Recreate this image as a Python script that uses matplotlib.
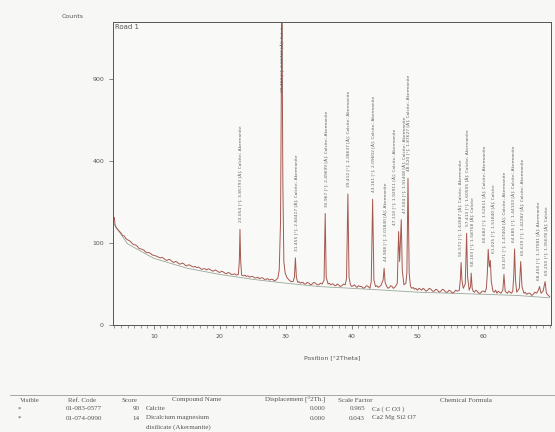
import numpy as np
import matplotlib
matplotlib.use('Agg')
import matplotlib.pyplot as plt

two_theta = [4.0, 4.1, 4.3, 4.6, 5.0, 5.25, 5.5, 5.75, 6.0, 6.25, 6.5, 6.75, 7.0, 7.25, 7.5, 7.75,
             8.0, 8.25, 8.5, 8.75, 9.0, 9.25, 9.5, 9.75, 10.0, 10.25, 10.5, 10.75,
             11.0, 11.25, 11.5, 11.75, 12.0, 12.25, 12.5, 12.75, 13.0, 13.25, 13.5, 13.75,
             14.0, 14.25, 14.5, 14.75, 15.0, 15.25, 15.5, 15.75, 16.0, 16.25, 16.5, 16.75,
             17.0, 17.25, 17.5, 17.75, 18.0, 18.25, 18.5, 18.75, 19.0, 19.25, 19.5, 19.75,
             20.0, 20.25, 20.5, 20.75, 21.0, 21.25, 21.5, 21.75, 22.0, 22.25, 22.5,
             22.8, 22.95, 23.05, 23.15, 23.3,
             23.6, 23.8, 24.0, 24.25, 24.5, 24.75, 25.0, 25.25, 25.5, 25.75, 26.0, 26.25, 26.5,
             26.75, 27.0, 27.25, 27.5, 27.75, 28.0, 28.25, 28.5, 28.8, 29.0, 29.2,
             29.4, 29.55, 29.7, 29.9, 30.2, 30.5, 30.8, 31.1, 31.3, 31.45, 31.6, 31.8, 32.0, 32.2,
             32.4, 32.6, 32.8, 33.0, 33.25, 33.5, 33.75, 34.0, 34.25, 34.5, 34.75, 35.0, 35.25,
             35.5, 35.8, 35.97, 36.12, 36.4, 36.6, 36.8, 37.0, 37.2, 37.4, 37.6, 37.8, 38.0,
             38.25, 38.5, 38.75, 39.0, 39.2, 39.41, 39.58, 39.8, 40.0, 40.2, 40.4, 40.6, 40.8,
             41.0, 41.25, 41.5, 41.75, 42.0, 42.25, 42.5, 42.75, 42.95,
             43.16, 43.35, 43.6, 43.8, 44.0, 44.2, 44.4, 44.75, 44.9, 45.05, 45.3, 45.5, 45.7,
             45.9, 46.1, 46.3, 46.5, 46.7, 46.9,
             47.1, 47.25, 47.5, 47.65, 47.9, 48.2, 48.35, 48.52, 48.7, 48.9, 49.1, 49.3, 49.5,
             49.7, 49.95, 50.2, 50.4, 50.6, 50.8, 51.0, 51.25, 51.5, 51.75, 52.0, 52.25, 52.5,
             52.75, 53.0, 53.25, 53.5, 53.75, 54.0, 54.25, 54.5, 54.75, 55.0, 55.25, 55.5, 55.75,
             56.0, 56.3, 56.45,
             56.57, 56.7, 56.9, 57.2, 57.41, 57.55, 57.8, 58.0, 58.1, 58.25, 58.4, 58.6, 58.8,
             59.0, 59.25, 59.5, 59.75, 60.0, 60.2, 60.4, 60.55, 60.68, 60.85, 61.0, 61.15, 61.4,
             61.6, 61.8, 62.0, 62.2, 62.4, 62.6, 62.9, 63.07,
             63.25, 63.4, 63.6, 63.8, 64.0, 64.2, 64.4, 64.55, 64.68, 64.82, 65.0, 65.2, 65.4,
             65.61, 65.8, 66.1, 66.3, 66.5, 66.75, 67.0, 67.25, 67.5, 67.75, 68.0, 68.3, 68.45,
             68.7, 69.0, 69.3, 69.5, 69.8, 70.0]
counts = [172, 150, 140, 134, 126, 119, 118, 111, 108, 106, 103, 98, 96, 95, 92, 87,
          86, 85, 83, 79, 78, 78, 76, 73, 72, 71, 70, 68,
          67, 68, 66, 63, 62, 64, 63, 60, 58, 60, 59, 56,
          55, 57, 56, 53, 52, 54, 53, 51, 50, 51, 49, 50,
          48, 46, 47, 47, 45, 47, 46, 44, 43, 45, 44, 42,
          41, 43, 42, 40, 39, 41, 40, 38, 38, 39, 37,
          38, 60, 136, 62, 37,
          36, 37, 35, 36, 34, 35, 35, 33, 33, 34, 32, 33, 33,
          31, 31, 32, 30, 31, 31, 29, 30, 33, 45, 160,
          1600, 300, 60, 40, 33, 30, 28, 28, 34, 67, 34, 27, 28, 26,
          27, 27, 25, 25, 27, 26, 24, 25, 27, 26, 24, 24, 26,
          25, 30, 185, 34, 25, 26, 24, 25, 25, 23, 23, 25, 24,
          22, 23, 25, 24, 32, 255, 34, 24, 22, 23, 24, 22, 21,
          23, 22, 22, 20, 21, 23, 22, 20, 28,
          235, 30, 22, 23, 21, 22, 23, 30, 48, 27, 22, 20, 21,
          23, 22, 20, 21, 23, 26,
          130, 60, 165, 45, 24, 26, 40, 320, 40, 22, 20, 21, 19,
          20, 18, 20, 19, 18, 20, 19, 17, 18, 20, 19, 17, 17,
          19, 18, 16, 17, 19, 18, 16, 16, 18, 17, 15, 16, 18,
          17, 18, 30,
          58, 30, 20, 25, 125, 35, 18, 22, 40, 20, 17, 16, 18,
          17, 15, 15, 17, 17, 16, 20, 40, 85, 50, 62, 28, 17,
          16, 18, 15, 17, 16, 15, 18, 38,
          17, 16, 15, 17, 16, 15, 17, 35, 86, 30, 16, 18, 20,
          60, 22, 15, 16, 14, 15, 15, 13, 14, 16, 15, 18, 22,
          15, 17, 28, 15, 13, 12]

# Linha de fundo (background)
bg_theta = [4.0, 6.0, 10.0, 15.0, 20.0, 25.0, 30.0, 35.0, 40.0, 45.0, 50.0, 55.0, 60.0, 65.0, 70.0]
bg_counts = [150, 98, 66, 48, 38, 31, 26, 22, 20, 18, 16, 15, 14, 13, 11]

# Picos identificados
peak_pos = [23.05, 29.40, 31.45, 35.97, 39.41, 43.16, 44.9, 47.11, 47.50, 48.52,
            56.57, 57.41, 58.10, 60.68, 61.0, 63.07, 64.68, 65.61, 68.45, 69.3]
peak_top = [136, 1600, 67, 185, 255, 235, 48, 130, 165, 320,
            58, 125, 40, 85, 62, 38, 86, 60, 22, 28]
peak_label = [
    '23.054 [°]; 3.85793 [Å]; Calcite; Akermanite',
    '29.404 [°]; 3.03760 [Å]; Calcite',
    '31.455 [°]; 2.84417 [Å]; Calcite; Akermanite',
    '35.967 [°]; 2.49699 [Å]; Calcite; Akermanite',
    '39.412 [°]; 2.28637 [Å]; Calcite; Akermanite',
    '43.161 [°]; 2.09602 [Å]; Calcite; Akermanite',
    '44.908 [°]; 2.01840 [Å]; Akermanite',
    '47.110 [°]; 1.92911 [Å]; Calcite; Akermanite',
    '47.504 [°]; 1.91408 [Å]; Calcite; Akermanite',
    '48.520 [°]; 1.87627 [Å]; Calcite; Akermanite',
    '56.571 [°]; 1.62687 [Å]; Calcite; Akermanite',
    '57.413 [°]; 1.60505 [Å]; Calcite; Akermanite',
    '58.103 [°]; 1.58758 [Å]; Calcite',
    '60.682 [°]; 1.52611 [Å]; Calcite; Akermanite',
    '61.025 [°]; 1.51840 [Å]; Calcite',
    '63.071 [°]; 1.47404 [Å]; Calcite; Akermanite',
    '64.685 [°]; 1.44103 [Å]; Calcite; Akermanite',
    '65.619 [°]; 1.42282 [Å]; Calcite; Akermanite',
    '68.450 [°]; 1.37081 [Å]; Akermanite',
    '69.250 [°]; 1.35678 [Å]; Calcite',
]
# pequenos deslocamentos horizontais (pt) para picos muito próximos
label_dx = [1.2, 0, 1.2, 1.2, 1.2, 1.2, 1.2, -2.6, 3.2, 1.2,
            0, 1.2, 1.5, -2.4, 3.2, 1.2, 0, 1.5, 0, 1.5]

y_ticks = [0, 100, 400, 900]
x_ticks = [10, 20, 30, 40, 50, 60]
y_max = 1365

# Tabela de fases
table_header = ['Visible', 'Ref. Code', 'Score', 'Compound Name', 'Displacement [°2Th.]',
                'Scale Factor', 'Chemical Formula']
table_rows = [
    ['*', '01-083-0577', '90', 'Calcite', '0.000', '0.965', 'Ca ( C O3 )'],
    ['*', '01-074-0990', '14', 'Dicalcium magnesium', '0.000', '0.043', 'Ca2 Mg Si2 O7'],
]
table_extra = 'disilicate (Akermanite)'

fig = plt.figure(figsize=(5.55, 4.32), dpi=100, facecolor='#f7f7f5')
ax = fig.add_axes([113/555, 107/432, 438/555, 303/432])
ax.set_facecolor('#f9f9f8')

ax.set_yscale('function', functions=(lambda v: np.sqrt(np.clip(v, 0, None)), np.square))
ax.plot(bg_theta, bg_counts, color='#9aa89a', lw=0.6)
ax.plot(two_theta, counts, color='#a5584f', lw=0.7)

ax.set_xlim(3.8, 70.2)
ax.set_ylim(0, y_max)
ax.set_yticks(y_ticks)
ax.set_xticks(x_ticks)
ax.set_xticks(np.arange(4, 71, 1), minor=True)
ax.tick_params(axis='both', labelsize=4.5, colors='#555555', length=3, width=0.5, direction='out')
ax.tick_params(axis='x', which='minor', length=1.8, width=0.4, colors='#555555')
ax.tick_params(axis='y', which='minor', length=0)
for s in ax.spines.values():
    s.set_color('#555555')
    s.set_linewidth(0.7)

for pos, top, lab, dx in zip(peak_pos, peak_top, peak_label, label_dx):
    if top > y_max:
        ax.text(pos + 0.25, y_max * 0.99, lab, rotation=90, fontsize=3.2, color='#666666',
                ha='center', va='top', clip_on=True)
    else:
        ax.annotate(lab, (pos, top), xytext=(dx, 5), textcoords='offset points', rotation=90,
                    fontsize=3.2, color='#666666', ha='center', va='bottom',
                    annotation_clip=True, clip_on=True)

ax.text(0.005, 0.995, 'Road 1', transform=ax.transAxes, fontsize=5, color='#555555',
        ha='left', va='top')
fig.text(62/555, 1 - 17/432, 'Counts', fontsize=4.5, color='#555555', ha='left', va='center')
ax.set_xlabel('Position [°2Theta]', fontsize=4.5, color='#555555', labelpad=12)

# Tabela
fig.add_artist(plt.Line2D([10/555, 1], [1 - 395/432, 1 - 395/432], color='#999999', lw=0.6))
header_x = [20, 68, 122, 172, 265, 338, 440]
for hx, h in zip(header_x, table_header):
    fig.text(hx/555, 1 - 400/432, h, fontsize=5, family='Liberation Serif', color='#555555',
             ha='left', va='center')
row_y = [409, 418]
for ry, row in zip(row_y, table_rows):
    fig.text(18/555, 1 - ry/432, row[0], fontsize=5, family='Liberation Serif', color='#555555', va='center')
    fig.text(66/555, 1 - ry/432, row[1], fontsize=5, family='Liberation Serif', color='#555555', va='center')
    fig.text(140/555, 1 - ry/432, row[2], fontsize=5, family='Liberation Serif', color='#555555', va='center', ha='right')
    fig.text(146/555, 1 - ry/432, row[3], fontsize=5, family='Liberation Serif', color='#555555', va='center')
    fig.text(325/555, 1 - ry/432, row[4], fontsize=5, family='Liberation Serif', color='#555555', va='center', ha='right')
    fig.text(365/555, 1 - ry/432, row[5], fontsize=5, family='Liberation Serif', color='#555555', va='center', ha='right')
    fig.text(372/555, 1 - ry/432, row[6], fontsize=5, family='Liberation Serif', color='#555555', va='center')
fig.text(146/555, 1 - 427/432, table_extra, fontsize=5, family='Liberation Serif', color='#555555', va='center')

fig.savefig('out.png', dpi=100, facecolor=fig.get_facecolor())
